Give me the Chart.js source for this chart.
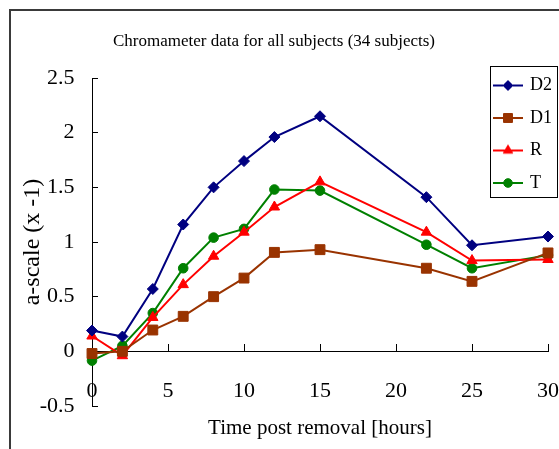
<!DOCTYPE html>
<html>
<head>
<meta charset="utf-8">
<script src="https://cdn.jsdelivr.net/npm/chart.js@4/dist/chart.umd.min.js"></script>
<style>
    html, body { margin: 0; padding: 0; background: #fff; overflow: hidden; }
    #wrap { position: relative; width: 559px; height: 449px; }
    #frame { position: absolute; left: 9px; top: 9px; width: 700px; height: 600px;
             border-left: 2px solid #3a3a3a; border-top: 2px solid #3a3a3a; }
    #chromaChart { position: absolute; left: 0; top: 0; }
</style>
</head>
<body>
<div id="wrap">
    <div id="frame"></div>
    <canvas id="chromaChart" width="559" height="449"></canvas>
</div>
<script>
let hours = [0, 2, 4, 6, 8, 10, 12, 15, 22, 25, 30];
let seriesD2 = [0.19, 0.135, 0.57, 1.16, 1.50, 1.74, 1.96, 2.15, 1.41, 0.97, 1.05];
let seriesD1 = [-0.02, 0.0, 0.195, 0.32, 0.50, 0.67, 0.905, 0.93, 0.76, 0.64, 0.90];
let seriesR = [0.14, -0.04, 0.31, 0.61, 0.87, 1.09, 1.32, 1.55, 1.09, 0.83, 0.84];
let seriesT = [-0.085, 0.05, 0.35, 0.76, 1.04, 1.12, 1.48, 1.47, 0.975, 0.76, 0.88];

let seriesNames = ['D2', 'D1', 'R', 'T'];
let seriesColors = ['#000080', '#993300', '#ff0000', '#008000'];
let seriesMarkers = ['rectRot', 'rect', 'triangle', 'circle'];
let markerRadius = [5.5, 7, 6, 4.8];

let serifFont = "'Liberation Serif', 'Times New Roman', serif";

function toPoints(values){
    return values.map((v, i) => ({x: hours[i], y: v}));
}

// small picture "line + marker" used as the legend symbol
function legendSymbol(index){
    let c = document.createElement('canvas');
    c.width = 30;
    c.height = 16;
    let ctx = c.getContext('2d');
    ctx.strokeStyle = seriesColors[index];
    ctx.fillStyle = seriesColors[index];
    ctx.lineWidth = 2;
    ctx.beginPath();
    ctx.moveTo(0, 8);
    ctx.lineTo(30, 8);
    ctx.stroke();
    ctx.lineWidth = 1;
    Chart.helpers.drawPoint(ctx, {
        pointStyle: seriesMarkers[index],
        radius: markerRadius[index] * 0.9,
        rotation: 0,
        borderWidth: 1
    }, 15, 8);
    return c;
}

let legendBox = {x: 490, y: 66, w: 67, h: 131};
let legendPadding = 14.5;

let legendPlacer = {
    id: 'legendPlacer',
    beforeDraw(chart){
        let lg = chart.legend;
        lg.left = legendBox.x + 5 - legendPadding;
        lg.top = legendBox.y + 10.5 - legendPadding;
        lg.right = lg.left + lg.width;
        lg.bottom = lg.top + 300;
        lg.height = 300;
    },
    afterDraw(chart){
        let ctx = chart.ctx;
        ctx.save();
        ctx.strokeStyle = '#000';
        ctx.lineWidth = 1;
        ctx.strokeRect(legendBox.x + 0.5, legendBox.y + 0.5, legendBox.w, legendBox.h);
        ctx.restore();
    }
};

let datasets = [seriesD2, seriesD1, seriesR, seriesT].map((values, i) => ({
    label: seriesNames[i],
    data: toPoints(values),
    borderColor: seriesColors[i],
    backgroundColor: seriesColors[i],
    borderWidth: 2,
    pointStyle: seriesMarkers[i],
    pointRadius: markerRadius[i],
    pointBorderWidth: 1,
    tension: 0,
    clip: false
}));

let config = {
    type: 'line',
    data: { datasets: datasets },
    options: {
        responsive: false,
        animation: false,
        layout: {
            padding: {top: 0, left: 0, right: 11, bottom: 43}
        },
        plugins: {
            title: {
                display: true,
                text: 'Chromameter data for all subjects (34 subjects)',
                color: '#000',
                font: {family: serifFont, size: 17, weight: 'normal'},
                padding: {top: 31.8, bottom: 25.8}
            },
            legend: {
                position: 'chartArea',
                align: 'start',
                labels: {
                    color: '#000',
                    font: {family: serifFont, size: 18},
                    usePointStyle: true,
                    pointStyleWidth: 26,
                    padding: legendPadding,
                    generateLabels(chart){
                        let items = Chart.defaults.plugins.legend.labels.generateLabels(chart);
                        items.forEach((item, i) => {
                            item.pointStyle = legendSymbol(i);
                        });
                        return items;
                    }
                }
            },
            tooltip: { enabled: false }
        },
        scales: {
            x: {
                type: 'linear',
                position: {y: 0},
                min: 0,
                max: 30,
                afterFit(scale){
                    scale.paddingLeft = 0;
                    scale.paddingRight = 0;
                    scale.height = 90;
                },
                ticks: {
                    stepSize: 5,
                    color: '#000',
                    font: {family: serifFont, size: 22},
                    padding: 35,
                    maxRotation: 0
                },
                grid: {
                    drawOnChartArea: false,
                    drawTicks: true,
                    tickLength: -8,
                    color: '#000'
                },
                border: { display: true, color: '#000', width: 1 },
                title: {
                    display: true,
                    text: 'Time post removal [hours]',
                    color: '#000',
                    font: {family: serifFont, size: 21},
                    padding: {top: 0, bottom: 0}
                }
            },
            y: {
                position: 'left',
                min: -0.5,
                max: 2.5,
                afterFit(scale){
                    scale.width = 92;
                },
                ticks: {
                    stepSize: 0.5,
                    color: '#000',
                    font: {family: serifFont, size: 22},
                    padding: 23.5,
                    callback: value => String(Number(value.toFixed(1)))
                },
                grid: {
                    drawOnChartArea: false,
                    drawTicks: true,
                    tickLength: -6,
                    color: '#000'
                },
                border: { display: true, color: '#000', width: 1 },
                title: {
                    display: true,
                    text: 'a-scale (x -1)',
                    color: '#000',
                    font: {family: serifFont, size: 24},
                    padding: {top: 18.6, bottom: 0}
                }
            }
        }
    },
    plugins: [legendPlacer]
};

let chromaCtx = document.getElementById('chromaChart').getContext('2d');
window.chromaChart = new Chart(chromaCtx, config);
</script>
</body>
</html>
